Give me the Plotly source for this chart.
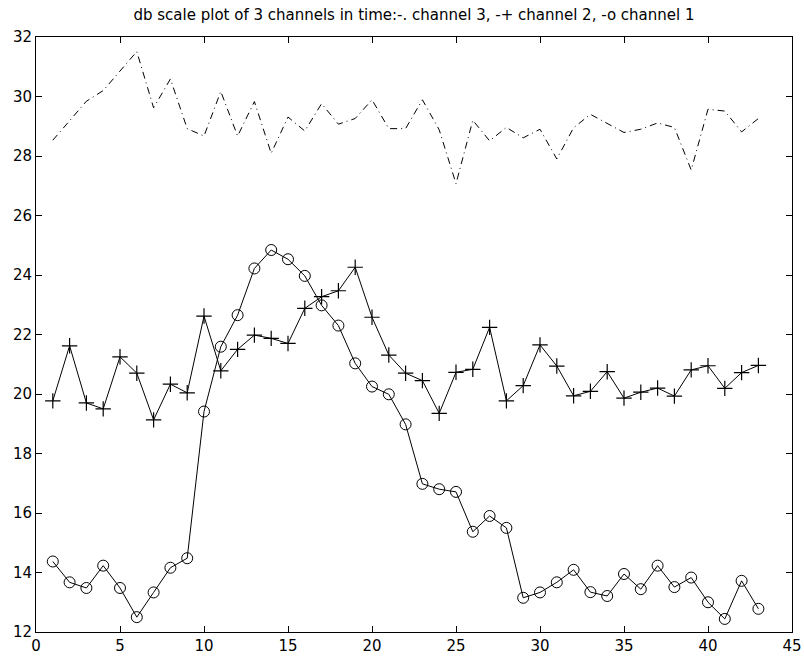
import plotly.graph_objects as go

# Sample index (time)
t = list(range(1, 44))

# Channel levels in dB
channel_1 = [14.37, 13.67, 13.48, 14.23, 13.48, 12.50, 13.33, 14.16, 14.48, 19.41,
             21.59, 22.65, 24.22, 24.84, 24.53, 23.97, 22.98, 22.30, 21.03, 20.25,
             19.99, 18.98, 16.98, 16.80, 16.71, 15.37, 15.90, 15.50, 13.15, 13.33,
             13.67, 14.09, 13.34, 13.21, 13.95, 13.44, 14.23, 13.51, 13.83, 13.00,
             12.44, 13.72, 12.78]

channel_2 = [19.77, 21.62, 19.70, 19.50, 21.25, 20.70, 19.13, 20.33, 20.04, 22.62,
             20.78, 21.50, 21.98, 21.87, 21.70, 22.88, 23.27, 23.47, 24.26, 22.58,
             21.31, 20.70, 20.45, 19.35, 20.73, 20.83, 22.24, 19.77, 20.28, 21.65,
             20.94, 19.94, 20.09, 20.75, 19.86, 20.06, 20.20, 19.93, 20.81, 20.95,
             20.19, 20.72, 20.96]

channel_3 = [28.53, 29.20, 29.84, 30.20, 30.87, 31.51, 29.62, 30.59, 28.92, 28.67,
             30.17, 28.67, 29.83, 28.09, 29.31, 28.84, 29.76, 29.07, 29.26, 29.89,
             28.92, 28.92, 29.89, 28.88, 27.07, 29.20, 28.51, 28.96, 28.61, 28.90,
             27.90, 28.95, 29.40, 29.10, 28.79, 28.90, 29.11, 28.96, 27.53, 29.57,
             29.51, 28.81, 29.26]

x_ticks = [0, 5, 10, 15, 20, 25, 30, 35, 40, 45]
y_ticks = [12, 14, 16, 18, 20, 22, 24, 26, 28, 30, 32]

title_text = "db scale plot of 3 channels in time:-. channel 3, -+ channel 2, -o channel 1"

FONT = "DejaVu Sans, Liberation Sans, Arial, sans-serif"

fig = go.Figure()

fig.add_trace(go.Scatter(
    x=t, y=channel_3, mode="lines", name="channel 3",
    line=dict(color="black", width=1, dash="7px,4px,1px,4px"),
))

fig.add_trace(go.Scatter(
    x=t, y=channel_2, mode="lines+markers", name="channel 2",
    line=dict(color="black", width=1),
    marker=dict(symbol="cross-thin", size=11, color="black",
                line=dict(color="black", width=1.2)),
))

fig.add_trace(go.Scatter(
    x=t, y=channel_1, mode="lines+markers", name="channel 1",
    line=dict(color="black", width=1),
    marker=dict(symbol="circle-open", size=11, color="black",
                line=dict(color="black", width=1)),
))

axis_common = dict(
    showgrid=False, zeroline=False, automargin=False,
    showline=True, linecolor="black", linewidth=1, mirror="ticks",
    ticks="inside", ticklen=6, tickwidth=1, tickcolor="black",
    tickfont=dict(family=FONT, size=15, color="black"),
)

fig.update_layout(
    width=804, height=660,
    margin=dict(l=36, r=12, t=37, b=28),
    paper_bgcolor="white", plot_bgcolor="white",
    showlegend=False,
    title=dict(
        text=title_text,
        font=dict(family=FONT, size=15, color="black"),
        x=0.5, xref="paper", xanchor="center",
        y=1 - 15 / 660, yref="container", yanchor="middle",
        automargin=False,
    ),
    xaxis=dict(range=[0, 45], tickvals=x_ticks, **axis_common),
    yaxis=dict(range=[12, 32], tickvals=y_ticks, **axis_common),
)

fig.write_html("out.html")
